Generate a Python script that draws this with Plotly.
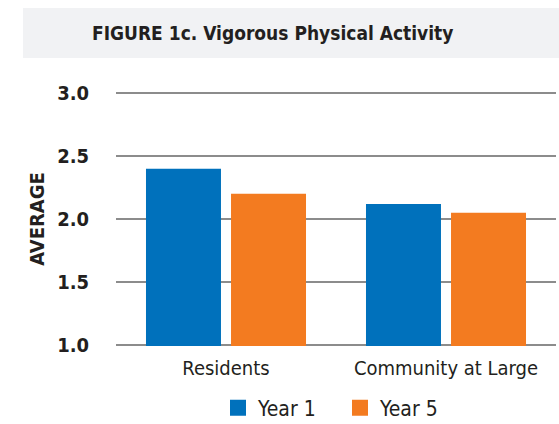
import plotly.graph_objects as go

categories = ["Residents", "Community at Large"]
series_names = ["Year 1", "Year 5"]
year1 = [2.40, 2.12]
year5 = [2.20, 2.05]
y_ticks = [1.0, 1.5, 2.0, 2.5, 3.0]
y_tick_labels = ["1.0", "1.5", "2.0", "2.5", "3.0"]

BLUE = "#0071bc"
ORANGE = "#f37b20"
TEXT = "#231f20"
FONT = "DejaVu Sans Condensed"

fig = go.Figure()
for name, vals, col in [(series_names[0], year1, BLUE), (series_names[1], year5, ORANGE)]:
    fig.add_trace(go.Bar(x=categories, y=vals, name=name, marker_color=col,
                         marker_line_width=0, showlegend=False))
    fig.add_trace(go.Scatter(x=[None], y=[None], mode="markers", name=name,
                             marker=dict(symbol="square", size=20, color=col)))

L, R, T, B = 116, 3, 92, 78
W, H = 559, 424
pw = W - L - R
ph = H - T - B

def px_x(x):
    return (x - L) / pw

def px_y(y):
    return (H - B - y) / ph

fig.update_layout(
    width=W, height=H,
    margin=dict(l=L, r=R, t=T, b=B),
    paper_bgcolor="white", plot_bgcolor="white",
    barmode="group", bargap=0.227, bargroupgap=0.118,
    font=dict(family=FONT, color=TEXT),
    xaxis=dict(tickfont=dict(size=20, color=TEXT), showgrid=False, showline=False,
               ticks="", ticklabelstandoff=8, automargin=False),
    yaxis=dict(range=[0.99, 3.01], tickvals=y_ticks, ticktext=y_tick_labels,
               tickfont=dict(size=20, color=TEXT, weight="bold"),
               showgrid=True, gridcolor="#8c8c8c", gridwidth=2,
               zeroline=False, showline=False, ticks="", ticklabelstandoff=26,
               automargin=False,
               title=dict(text="AVERAGE", font=dict(size=20, color=TEXT, weight="bold"),
                          standoff=7)),
    legend=dict(orientation="h", xref="container", yref="container",
                x=218 / W, xanchor="left", y=(H - 408) / H, yanchor="middle",
                font=dict(size=21, color=TEXT), itemwidth=30, tracegroupgap=0,
                entrywidth=77, entrywidthmode="pixels",
                bgcolor="rgba(0,0,0,0)"),
    shapes=[dict(type="rect", xref="paper", yref="paper",
                 x0=px_x(23), x1=px_x(559), y0=px_y(58), y1=px_y(8),
                 fillcolor="#f1f2f4", line_width=0, layer="below")],
    annotations=[dict(text="FIGURE 1c. Vigorous Physical Activity", xref="paper", yref="paper",
                      x=px_x(272), y=px_y(33), showarrow=False, xanchor="center", yanchor="middle",
                      font=dict(size=19, color=TEXT, weight="bold"))],
)

fig.write_html("out.html", config={"displayModeBar": False},
               post_script="document.body.style.margin='0';")
